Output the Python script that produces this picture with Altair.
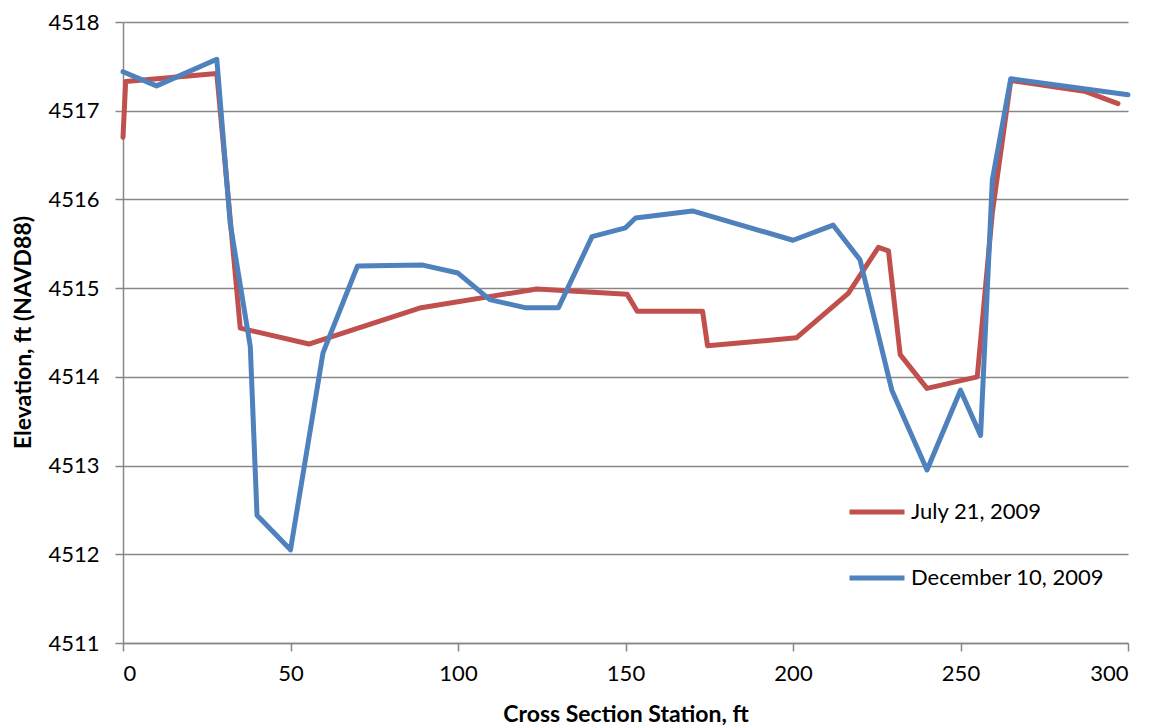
import altair as alt
import pandas as pd

# ---- data ----
series_names = ["July 21, 2009", "December 10, 2009"]
series_colors = ["#C0504D", "#4F81BD"]

station_jul = [0, 0.8, 28, 35, 55.5, 89, 123.5, 150.5, 153.5, 173, 174.5,
               201, 216.5, 225.5, 228.5, 232, 240, 255, 259.5, 265, 287, 297]
elev_jul = [4516.70, 4517.33, 4517.42, 4514.55, 4514.37, 4514.78, 4514.99,
            4514.93, 4514.74, 4514.74, 4514.35, 4514.44, 4514.94, 4515.46,
            4515.42, 4514.25, 4513.87, 4514.00, 4515.85, 4517.34, 4517.22,
            4517.08]

station_dec = [0, 10, 28, 32, 38, 40, 50, 59.7, 70, 89.5, 100, 109.5, 120,
               130, 140, 150, 153, 170, 200, 212, 220, 229.5, 240, 250, 256,
               259.5, 265, 300]
elev_dec = [4517.44, 4517.28, 4517.58, 4515.73, 4514.34, 4512.44, 4512.05,
            4514.27, 4515.25, 4515.26, 4515.17, 4514.87, 4514.78, 4514.78,
            4515.58, 4515.68, 4515.79, 4515.87, 4515.54, 4515.71, 4515.32,
            4513.85, 4512.95, 4513.85, 4513.34, 4516.22, 4517.36, 4517.18]

x_ticks = [0, 50, 100, 150, 200, 250, 300]
y_ticks = [4511, 4512, 4513, 4514, 4515, 4516, 4517, 4518]

df_jul = pd.DataFrame({"station": station_jul, "elev": elev_jul,
                       "series": series_names[0],
                       "ord": list(range(len(station_jul)))})
df_dec = pd.DataFrame({"station": station_dec, "elev": elev_dec,
                       "series": series_names[1],
                       "ord": list(range(len(station_dec)))})

FONT = "Lato"
GRID = "#878787"

x_enc = alt.X(
    "station:Q",
    scale=alt.Scale(domain=[0, 300], nice=False, zero=False),
    axis=alt.Axis(
        values=x_ticks, format="d", grid=False,
        title="Cross Section Station, ft",
        domainColor=GRID, domainWidth=1.5,
        tickColor=GRID, tickWidth=1.5, tickSize=8,
        labelFont=FONT, labelFontSize=22, labelColor="black", labelPadding=12,
        titleFont=FONT, titleFontSize=23, titleFontWeight="bold",
        titleColor="black", titleBaseline="alphabetic", titleY=78,
    ),
)
y_enc = alt.Y(
    "elev:Q",
    scale=alt.Scale(domain=[4511, 4518], nice=False, zero=False),
    axis=alt.Axis(
        values=y_ticks, format="d", grid=True,
        gridColor=GRID, gridWidth=1.5,
        title="Elevation, ft (NAVD88)",
        domainColor=GRID, domainWidth=1.5,
        tickColor=GRID, tickWidth=1.5, tickSize=8,
        labelFont=FONT, labelFontSize=22, labelColor="black", labelPadding=16,
        titleFont=FONT, titleFontSize=23, titleFontWeight="bold",
        titleColor="black", titleBaseline="alphabetic",
        titleX=-93, titleY=310, titleAngle=270, titleAlign="center",
    ),
)
color_enc = alt.Color(
    "series:N",
    scale=alt.Scale(domain=series_names, range=series_colors),
    legend=alt.Legend(
        title=None, orient="none", legendX=724, legendY=460,
        symbolType="stroke", symbolSize=3025, symbolStrokeWidth=5,
        labelFont=FONT, labelFontSize=22, labelColor="black",
        labelOffset=4, rowPadding=25, labelLimit=0,
    ),
)

line_kw = dict(strokeWidth=5, strokeJoin="round", strokeCap="round")

red = alt.Chart(df_jul).mark_line(**line_kw).encode(
    x=x_enc, y=y_enc, color=color_enc, order=alt.Order("ord:Q"))
blue = alt.Chart(df_dec).mark_line(**line_kw).encode(
    x=x_enc, y=y_enc, color=color_enc, order=alt.Order("ord:Q"))

chart = alt.layer(red, blue).properties(
    width=1005, height=621,
    autosize=alt.AutoSizeParams(type="none"),
    padding={"left": 115, "top": 14, "right": 14, "bottom": 84},
    background="white",
).configure_view(stroke=None)

chart.save("out.html", embed_options={"renderer": "svg", "actions": False})
